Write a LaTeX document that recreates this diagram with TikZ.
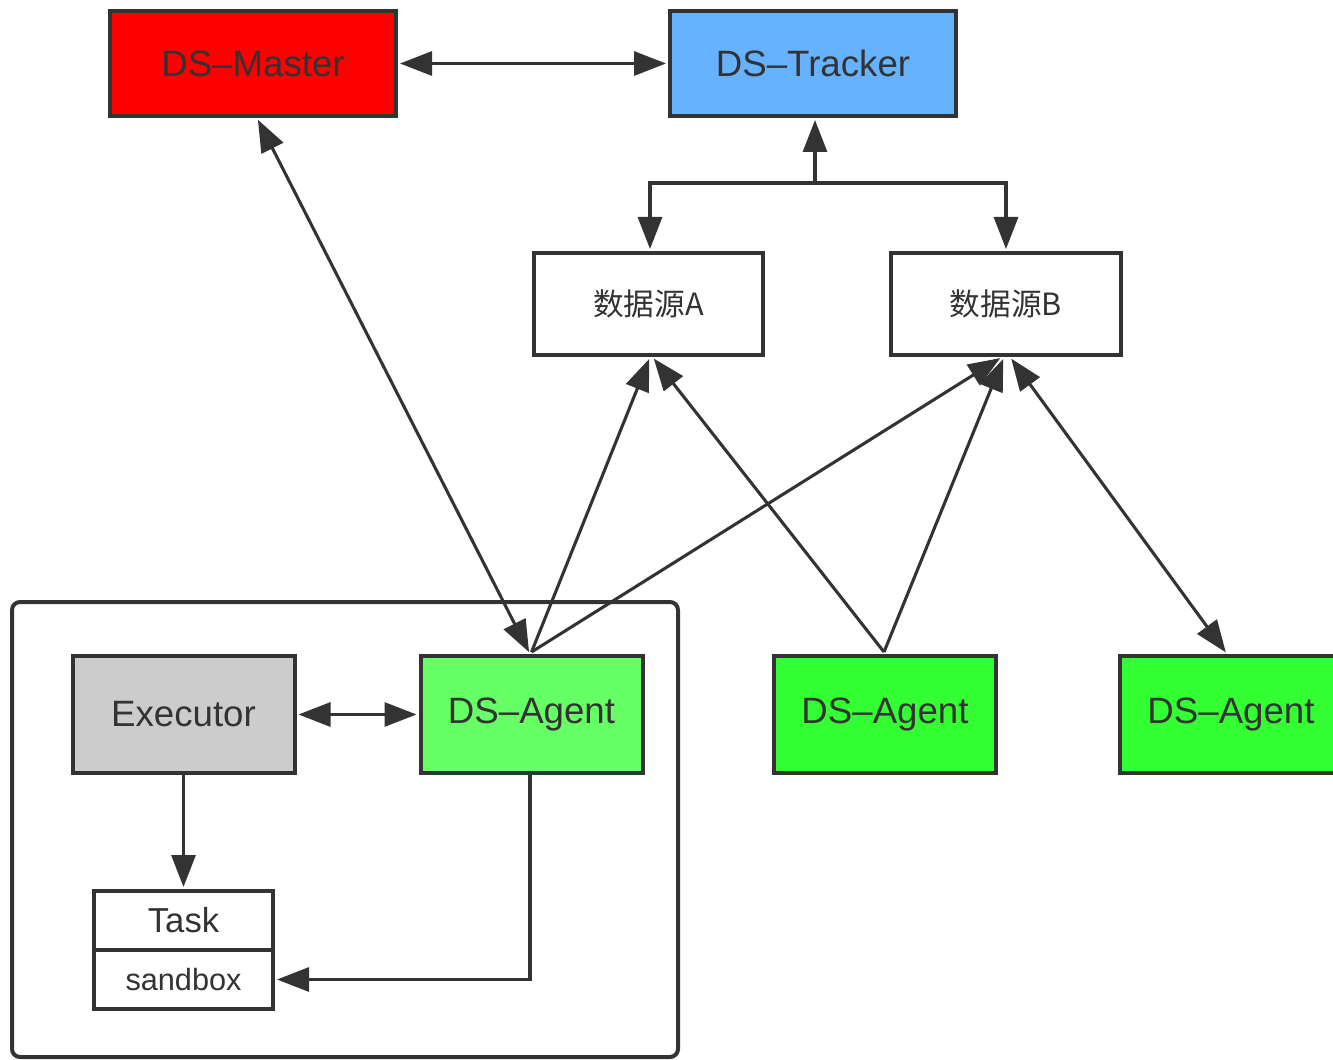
\documentclass[tikz,border=0pt]{standalone}
\usepackage{fontspec}
\setmainfont{Liberation Sans}
\newfontfamily\cjk{Noto Sans CJK SC}
\usetikzlibrary{arrows.meta,calc}
\definecolor{ink}{HTML}{333333}
\definecolor{masterred}{HTML}{FF0000}
\definecolor{trackerblue}{HTML}{66B2FF}
\definecolor{agentlight}{HTML}{66FF66}
\definecolor{agentgreen}{HTML}{33FF33}
\definecolor{execgray}{HTML}{CCCCCC}
\tikzset{
  box/.style={draw=ink, line width=3pt, text=ink, inner sep=0pt,
    font=\fontsize{27.5}{30}\selectfont},
  bigbox/.style={box, minimum width=214.5pt, minimum height=78.75pt},
  srcbox/.style={box, minimum width=172pt, minimum height=76.5pt,
    font=\cjk\fontsize{23}{26}\selectfont},
  agentbox/.style={box, minimum width=166.5pt, minimum height=87.75pt},
  taskbox/.style={box, minimum width=134.25pt, minimum height=44.25pt},
  tip/.tip={Triangle[length=24pt,width=18pt]},
  arr/.style={draw=ink, line width=2.3pt, -tip, shorten >=1.5pt},
  barr/.style={draw=ink, line width=2.3pt, tip-tip, shorten >=1.5pt, shorten <=1.5pt},
}
\begin{document}
\begin{tikzpicture}[x=0.75pt, y=-0.75pt]
\useasboundingbox[fill=white] (0,0) rectangle (1333,1059);

% outer frame around the local agent, executor and task
\draw[ink, line width=3pt, rounded corners=6pt] (12,602) rectangle (678,1057);

% top row
\node[bigbox, fill=masterred] (master) at (253,63.5) {DS–Master};
\node[bigbox, fill=trackerblue] (tracker) at (813,63.5) {DS–Tracker};

% data sources
\node[srcbox, fill=white] (srcA) at (648.5,304) {数据源A};
\node[srcbox, fill=white] (srcB) at (1006,304) {数据源B};

% agents and executor
\node[agentbox, fill=execgray] (exec) at (183.5,714.5) {Executor};
\node[agentbox, fill=agentlight] (agent1) at (531.5,714.5) {DS–Agent};
\node[agentbox, fill=agentgreen] (agent2) at (885,714.5) {DS–Agent};
\node[agentbox, fill=agentgreen] (agent3) at (1231,714.5) {DS–Agent};

% task with its sandbox
\node[taskbox, fill=white, font=\fontsize{26}{28}\selectfont] (task) at (183.5,920.5) {Task};
\node[taskbox, fill=white, font=\fontsize{23}{26}\selectfont] (sandbox) at (183.5,979.5) {sandbox};

% master <-> tracker
\draw[barr] (master.east) -- (tracker.west);

% tracker fan-out to data sources
\coordinate (fork) at (815,183);
\draw[arr] (fork) -- (tracker.south -| fork);
\draw[arr] (fork) -| ($(srcA.north)+(1.5,0)$);
\draw[arr] (fork) -| (srcB.north);

% master <-> local agent
\draw[barr] ($(master.south)+(4,0)$) -- ($(agent1.north)+(-1.5,0)$);

% agents to data sources
\draw[arr] ($(agent1.north)+(0,-2)$) -- ($(srcA.south)+(1.5,0)$);
\draw[arr] ($(agent1.north)+(0,-2)$) -- ($(srcB.south)+(-4,0)$);
\draw[arr] ($(agent2.north)+(-1,-2)$) -- ($(srcA.south)+(4,0)$);
\draw[arr] ($(agent2.north)+(-1,-2)$) -- ($(srcB.south)+(-2,0)$);
\draw[barr] ($(srcB.south)+(4,0)$) -- ($(agent3.north)+(-4,0)$);

% inside the frame
\draw[barr] (exec.east) -- (agent1.west);
\draw[arr] (exec.south) -- (task.north);
\draw[arr] ($(agent1.south)+(-1.5,0)$) |- (sandbox.east);
\end{tikzpicture}
\end{document}
